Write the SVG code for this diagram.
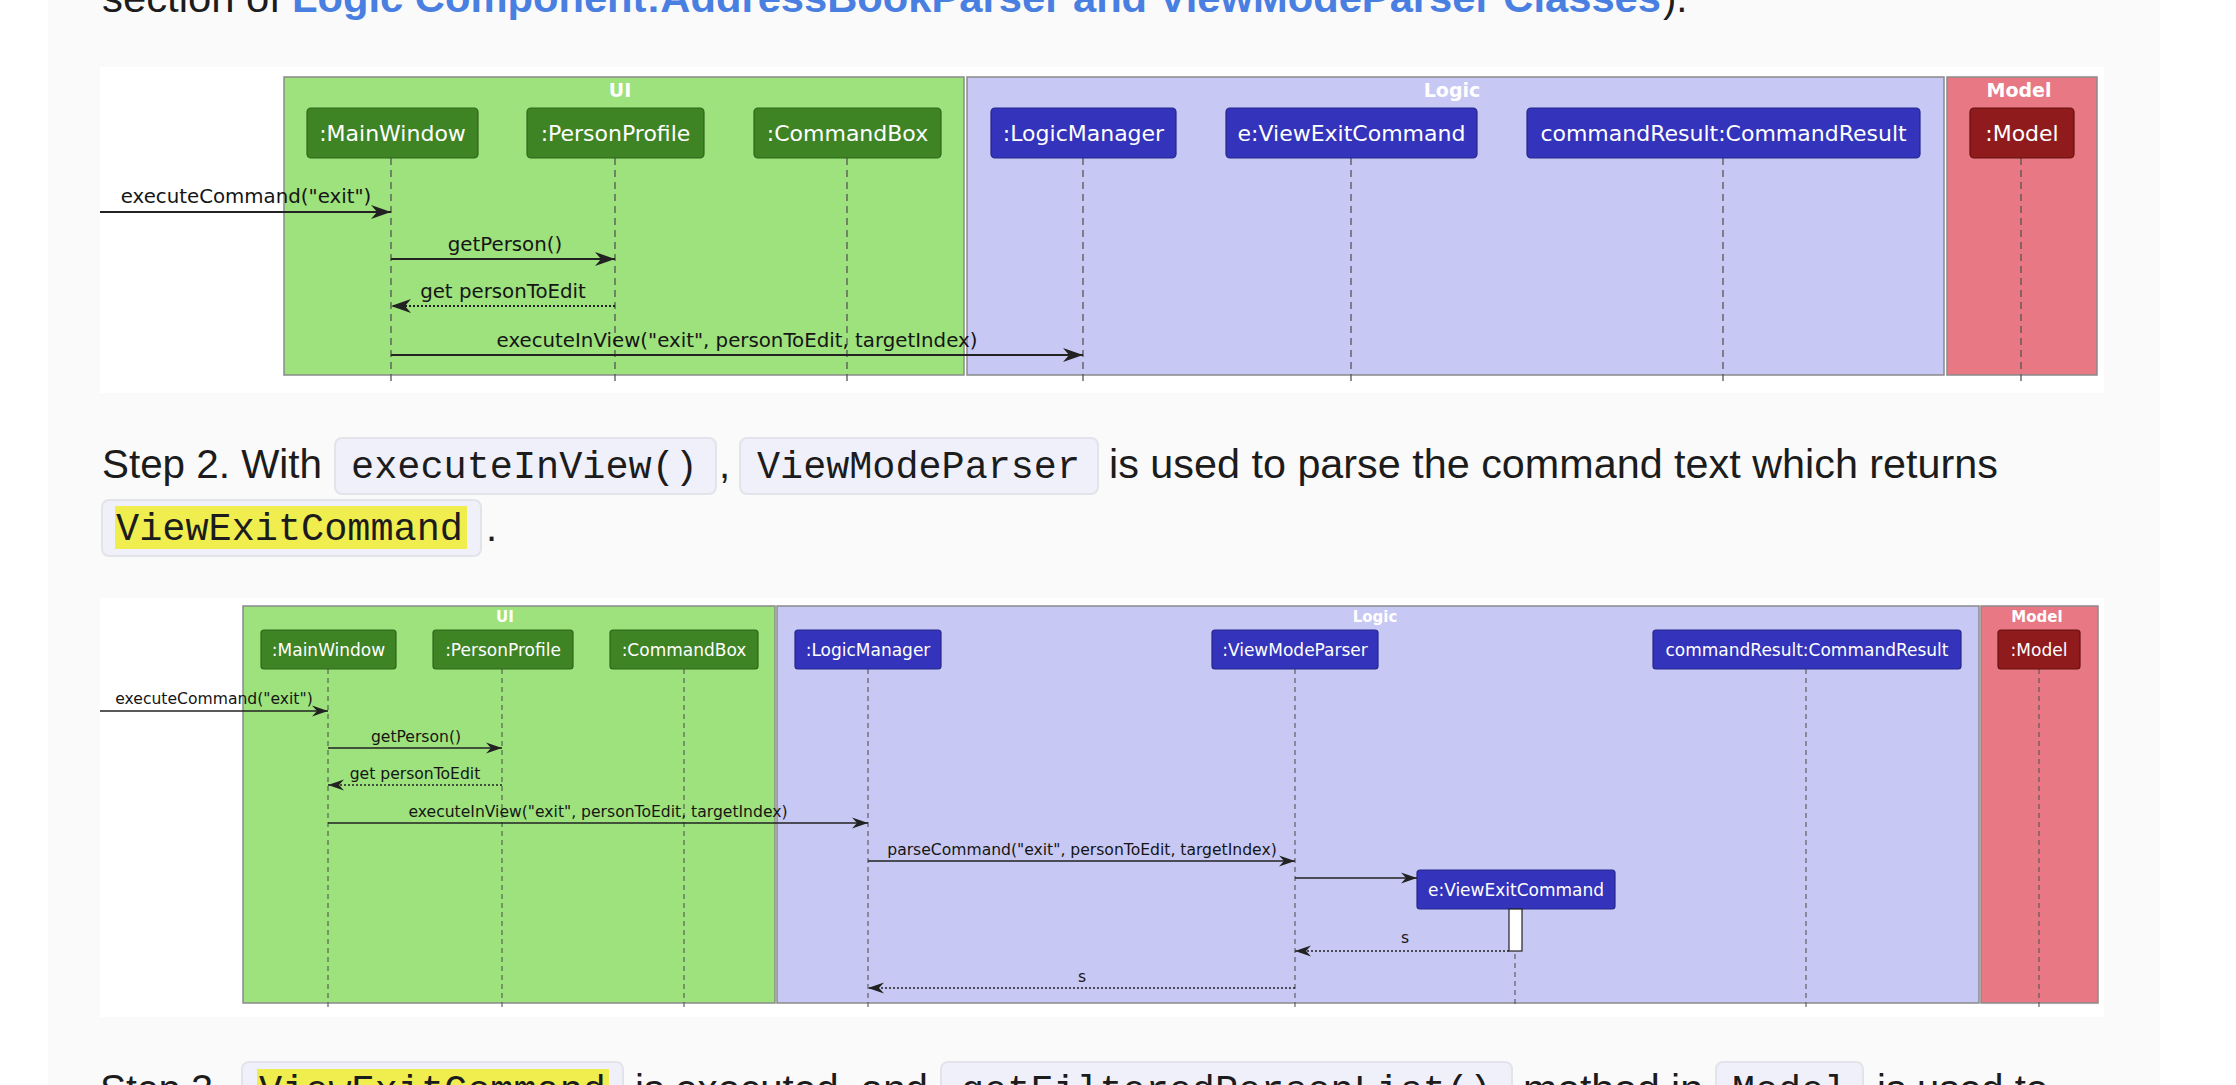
<svg xmlns="http://www.w3.org/2000/svg" width="2236" height="1085" viewBox="0 0 2236 1085">
<style>
.body{font-family:"Liberation Sans",Arial,sans-serif;font-size:40px;fill:#1c1c1c}
.link{font-family:"Liberation Sans",Arial,sans-serif;font-size:40px;font-weight:bold;fill:#4a7fe2}
.mono{font-family:"Liberation Mono","DejaVu Sans Mono",monospace;font-size:38px;fill:#1c1c1c}
.code{fill:#f0f0fb;stroke:#e3e3ea;stroke-width:2}
.hl{fill:#f0ee4e}
.g-ui{fill:#9de27c;stroke:#8a8a8a;stroke-width:1.5}
.g-logic{fill:#c8c8f4;stroke:#8a8a8a;stroke-width:1.5}
.g-model{fill:#e87883;stroke:#8a8a8a;stroke-width:1.5}
.p-ui{fill:#3e8425;stroke:#2d661a;stroke-width:1.2}
.p-logic{fill:#3333bb;stroke:#26268c;stroke-width:1.2}
.p-model{fill:#8f1b1d;stroke:#661010;stroke-width:1.2}
.pt1{font-family:"DejaVu Sans",sans-serif;font-size:22px;fill:#fff;text-anchor:middle}
.pt2{font-family:"DejaVu Sans",sans-serif;font-size:17px;fill:#fff;text-anchor:middle}
.gt1{font-family:"DejaVu Sans",sans-serif;font-size:19px;font-weight:bold;fill:#fff;text-anchor:middle}
.gt2{font-family:"DejaVu Sans",sans-serif;font-size:15px;font-weight:bold;fill:#fff;text-anchor:middle}
.life1{stroke:#555;stroke-width:1.3;stroke-dasharray:7 5;fill:none}
.life2{stroke:#555;stroke-width:1.1;stroke-dasharray:5 4;fill:none}
.m1{stroke:#222;stroke-width:2;fill:none;marker-end:url(#ah1)}
.r1{stroke:#222;stroke-width:2;fill:none;stroke-dasharray:2 2;marker-end:url(#ah1)}
.m2{stroke:#222;stroke-width:1.6;fill:none;marker-end:url(#ah2)}
.r2{stroke:#222;stroke-width:1.6;fill:none;stroke-dasharray:2 2;marker-end:url(#ah2)}
.mt1{font-family:"DejaVu Sans",sans-serif;font-size:19.8px;fill:#151515;text-anchor:middle}
.mt2{font-family:"DejaVu Sans",sans-serif;font-size:15.6px;fill:#151515;text-anchor:middle}
</style>
<defs>
<marker id="ah1" markerUnits="userSpaceOnUse" markerWidth="22" markerHeight="16" refX="20" refY="7" orient="auto" overflow="visible"><path d="M0,0 L20,7 L0,14 L6,7 Z" fill="#222"/></marker>
<marker id="ah2" markerUnits="userSpaceOnUse" markerWidth="18" markerHeight="12" refX="16" refY="5.5" orient="auto" overflow="visible"><path d="M0,0 L16,5.5 L0,11 L5,5.5 Z" fill="#222"/></marker>
</defs>

<rect x="0" y="0" width="2236" height="1085" fill="#ffffff"/>
<rect x="48" y="0" width="2112" height="1085" fill="#fafafa"/>

<g id="page-text">
<text class="body" x="102" y="12" textLength="179" lengthAdjust="spacingAndGlyphs">section of</text>
<text class="link" x="292" y="12" textLength="1369" lengthAdjust="spacingAndGlyphs">Logic Component:AddressBookParser and ViewModeParser Classes</text>
<text class="body" x="1663" y="12">).</text>

<text class="body" x="102" y="478" textLength="220" lengthAdjust="spacingAndGlyphs">Step 2. With</text>
<rect class="code" x="335" y="438" width="381" height="56" rx="7"/>
<text class="mono" x="351" y="478" textLength="347" lengthAdjust="spacingAndGlyphs">executeInView()</text>
<text class="body" x="719" y="478">,</text>
<rect class="code" x="740" y="438" width="358" height="56" rx="7"/>
<text class="mono" x="757" y="478" textLength="323" lengthAdjust="spacingAndGlyphs">ViewModeParser</text>
<text class="body" x="1109" y="478" textLength="889" lengthAdjust="spacingAndGlyphs">is used to parse the command text which returns</text>

<rect class="code" x="102" y="500" width="379" height="56" rx="7"/>
<rect class="hl" x="115" y="506" width="352" height="43"/>
<text class="mono" x="116" y="540" textLength="347" lengthAdjust="spacingAndGlyphs">ViewExitCommand</text>
<text class="body" x="486" y="541">.</text>

<text class="body" x="100" y="1103" textLength="124" lengthAdjust="spacingAndGlyphs">Step 3.</text>
<rect class="code" x="242" y="1062" width="381" height="56" rx="7"/>
<rect class="hl" x="257" y="1069" width="352" height="43"/>
<text class="mono" x="259" y="1102" textLength="347" lengthAdjust="spacingAndGlyphs">ViewExitCommand</text>
<text class="body" x="635" y="1103" textLength="293" lengthAdjust="spacingAndGlyphs">is executed, and</text>
<rect class="code" x="941" y="1062" width="571" height="56" rx="7"/>
<text class="mono" x="961" y="1102" textLength="531" lengthAdjust="spacingAndGlyphs">getFilteredPersonList()</text>
<text class="body" x="1523" y="1103" textLength="180" lengthAdjust="spacingAndGlyphs">method in</text>
<rect class="code" x="1716" y="1062" width="147" height="56" rx="7"/>
<text class="mono" x="1732" y="1102" textLength="115" lengthAdjust="spacingAndGlyphs">Model</text>
<text class="body" x="1877" y="1103" textLength="171" lengthAdjust="spacingAndGlyphs">is used to</text>
</g>

<!-- Diagram 1 -->
<g id="diagram1">
<rect x="100" y="67" width="2004" height="326" fill="#ffffff"/>
<g id="d1-box-ui"><rect class="g-ui" x="284" y="77" width="680" height="298"/><text class="gt1" x="620" y="97">UI</text></g>
<g id="d1-box-logic"><rect class="g-logic" x="967" y="77" width="977" height="298"/><text class="gt1" x="1452" y="97">Logic</text></g>
<g id="d1-box-model"><rect class="g-model" x="1947" y="77" width="150" height="298"/><text class="gt1" x="2019" y="97">Model</text></g>

<g id="d1-lifelines">
<line class="life1" x1="391" y1="158" x2="391" y2="381"/>
<line class="life1" x1="615" y1="158" x2="615" y2="381"/>
<line class="life1" x1="847" y1="158" x2="847" y2="381"/>
<line class="life1" x1="1083" y1="158" x2="1083" y2="381"/>
<line class="life1" x1="1351" y1="158" x2="1351" y2="381"/>
<line class="life1" x1="1723" y1="158" x2="1723" y2="381"/>
<line class="life1" x1="2021" y1="158" x2="2021" y2="381"/>
</g>

<g id="d1-mainwindow"><rect class="p-ui" x="307" y="108" width="171" height="50" rx="4"/><text class="pt1" x="392.5" y="141">:MainWindow</text></g>
<g id="d1-personprofile"><rect class="p-ui" x="527" y="108" width="177" height="50" rx="4"/><text class="pt1" x="615.5" y="141">:PersonProfile</text></g>
<g id="d1-commandbox"><rect class="p-ui" x="754" y="108" width="187" height="50" rx="4"/><text class="pt1" x="847.5" y="141">:CommandBox</text></g>
<g id="d1-logicmanager"><rect class="p-logic" x="991" y="108" width="185" height="50" rx="4"/><text class="pt1" x="1083.5" y="141">:LogicManager</text></g>
<g id="d1-viewexitcommand"><rect class="p-logic" x="1226" y="108" width="251" height="50" rx="4"/><text class="pt1" x="1351.5" y="141">e:ViewExitCommand</text></g>
<g id="d1-commandresult"><rect class="p-logic" x="1527" y="108" width="393" height="50" rx="4"/><text class="pt1" x="1723.5" y="141">commandResult:CommandResult</text></g>
<g id="d1-model"><rect class="p-model" x="1970" y="108" width="104" height="50" rx="4"/><text class="pt1" x="2022" y="141">:Model</text></g>

<g id="d1-connectors">
<line class="m1" x1="100" y1="212" x2="391" y2="212"/>
<text class="mt1" x="246" y="203">executeCommand("exit")</text>
<line class="m1" x1="391" y1="259" x2="615" y2="259"/>
<text class="mt1" x="505" y="251">getPerson()</text>
<line class="r1" x1="615" y1="306" x2="391" y2="306"/>
<text class="mt1" x="503" y="298">get personToEdit</text>
<line class="m1" x1="391" y1="355" x2="1083" y2="355"/>
<text class="mt1" x="737" y="347">executeInView("exit", personToEdit, targetIndex)</text>
</g>
</g>

<!-- Diagram 2 -->
<g id="diagram2">
<rect x="100" y="598" width="2004" height="419" fill="#ffffff"/>
<g id="d2-box-ui"><rect class="g-ui" x="243" y="606" width="532" height="397"/><text class="gt2" x="505" y="622">UI</text></g>
<g id="d2-box-logic"><rect class="g-logic" x="777" y="606" width="1202" height="397"/><text class="gt2" x="1375" y="622">Logic</text></g>
<g id="d2-box-model"><rect class="g-model" x="1981" y="606" width="117" height="397"/><text class="gt2" x="2037" y="622">Model</text></g>

<g id="d2-lifelines">
<line class="life2" x1="328" y1="669" x2="328" y2="1008"/>
<line class="life2" x1="502" y1="669" x2="502" y2="1008"/>
<line class="life2" x1="684" y1="669" x2="684" y2="1008"/>
<line class="life2" x1="868" y1="669" x2="868" y2="1008"/>
<line class="life2" x1="1295" y1="669" x2="1295" y2="1008"/>
<line class="life2" x1="1515" y1="909" x2="1515" y2="1008"/>
<line class="life2" x1="1806" y1="669" x2="1806" y2="1008"/>
<line class="life2" x1="2039" y1="669" x2="2039" y2="1008"/>
</g>

<g id="d2-mainwindow"><rect class="p-ui" x="261" y="630" width="135" height="39" rx="3"/><text class="pt2" x="328.5" y="656">:MainWindow</text></g>
<g id="d2-personprofile"><rect class="p-ui" x="433" y="630" width="140" height="39" rx="3"/><text class="pt2" x="503" y="656">:PersonProfile</text></g>
<g id="d2-commandbox"><rect class="p-ui" x="610" y="630" width="148" height="39" rx="3"/><text class="pt2" x="684" y="656">:CommandBox</text></g>
<g id="d2-logicmanager"><rect class="p-logic" x="795" y="630" width="146" height="39" rx="3"/><text class="pt2" x="868" y="656">:LogicManager</text></g>
<g id="d2-viewmodeparser"><rect class="p-logic" x="1212" y="630" width="166" height="39" rx="3"/><text class="pt2" x="1295" y="656">:ViewModeParser</text></g>
<g id="d2-viewexitcommand"><rect class="p-logic" x="1417" y="870" width="198" height="39" rx="3"/><text class="pt2" x="1516" y="896">e:ViewExitCommand</text>
<rect x="1509" y="909" width="13" height="42" fill="#ffffff" stroke="#222" stroke-width="1.2"/></g>
<g id="d2-commandresult"><rect class="p-logic" x="1653" y="630" width="308" height="39" rx="3"/><text class="pt2" x="1807" y="656">commandResult:CommandResult</text></g>
<g id="d2-model"><rect class="p-model" x="1998" y="630" width="82" height="39" rx="3"/><text class="pt2" x="2039" y="656">:Model</text></g>

<g id="d2-connectors">
<line class="m2" x1="100" y1="711" x2="328" y2="711"/>
<text class="mt2" x="214" y="704">executeCommand("exit")</text>
<line class="m2" x1="328" y1="748" x2="502" y2="748"/>
<text class="mt2" x="416" y="742">getPerson()</text>
<line class="r2" x1="502" y1="785" x2="328" y2="785"/>
<text class="mt2" x="415" y="779">get personToEdit</text>
<line class="m2" x1="328" y1="823" x2="868" y2="823"/>
<text class="mt2" x="598" y="817">executeInView("exit", personToEdit, targetIndex)</text>
<line class="m2" x1="868" y1="861" x2="1295" y2="861"/>
<text class="mt2" x="1082" y="855">parseCommand("exit", personToEdit, targetIndex)</text>
<line class="m2" x1="1295" y1="878" x2="1417" y2="878"/>
<line class="r2" x1="1509" y1="951" x2="1295" y2="951"/>
<text class="mt2" x="1405" y="943">s</text>
<line class="r2" x1="1295" y1="988" x2="868" y2="988"/>
<text class="mt2" x="1082" y="982">s</text>
</g>
</g>
</svg>
